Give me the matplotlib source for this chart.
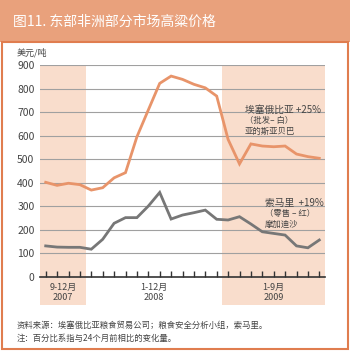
import matplotlib.pyplot as plt
from matplotlib.patches import Rectangle

# DATA -------------
# monthly prices, Sep 2007 .. Sep 2009 (USD / tonne)
ethiopia = [402, 389, 398, 392, 369, 379, 421, 443, 595, 709, 822, 853, 839,
            818, 803, 768, 584, 480, 565, 556, 553, 556, 522, 511, 504]
somalia = [132, 127, 126, 126, 118, 160, 228, 252, 252, 301, 359, 246, 263,
           273, 284, 245, 242, 256, 225, 192, 185, 178, 132, 124, 157]
period_labels = ["9-12月\n2007", "1-12月\n2008", "1-9月\n2009"]
period_months = [4, 12, 9]
y_ticks = [0, 100, 200, 300, 400, 500, 600, 700, 800, 900]

title = "图11. 东部非洲部分市场高粱价格"
unit = "美元/吨"
eth_label = ["埃塞俄比亚 +25%", "（批发– 白）", "亚的斯亚贝巴"]
som_label = ["索马里  +19%", "（零售 – 红）", "摩加迪沙"]
footer = ["资料来源：埃塞俄比亚粮食贸易公司；粮食安全分析小组，索马里。",
          "注：百分比系指与24个月前相比的变化量。"]

# COLORS -----------
bar_col = "#E9A17C"
border_col = "#E07D4F"
shade_col = "#F9DDCC"
orange = "#E8946A"
grey = "#777777"
text_col = "#444444"

plt.rcParams['font.family'] = ['Noto Sans CJK SC', 'DejaVu Sans']

W, H = 350, 351
fig = plt.figure(figsize=(W / 100, H / 100), dpi=100)


def fx(px):
    return px / W


def fy(py):
    return 1 - py / H


# title bar and frame
fig.patches.append(Rectangle((0, fy(42)), 1, 42 / H, transform=fig.transFigure,
                             facecolor=bar_col, edgecolor="none"))
fig.patches.append(Rectangle((fx(2), fy(349)), fx(346), (349 - 42) / H,
                             transform=fig.transFigure, facecolor="none",
                             edgecolor=border_col, linewidth=1.5))
fig.text(fx(13), fy(22), title, color="white", fontsize=10, va="center")

ax = fig.add_axes([fx(40), fy(277), fx(285), (277 - 65) / H])
n = len(ethiopia)
xs = [i + 0.5 for i in range(n)]

# shaded periods (2007 and 2009)
start = 0
for k, m in enumerate(period_months):
    if k != 1:
        ax.axvspan(start, start + m, ymin=-0.132, ymax=1, color=shade_col,
                   clip_on=False, zorder=0, linewidth=0)
    ax.text(start + m / 2, -25, period_labels[k], ha="center", va="top",
            fontsize=6.5, color=text_col, linespacing=1.2)
    start += m

for y in y_ticks[1:]:
    ax.axhline(y, color="#A0A0A0", linewidth=0.8, zorder=1)

ax.plot(xs, ethiopia, color=orange, linewidth=2, zorder=3,
        solid_joinstyle="miter")
ax.plot(xs, somalia, color=grey, linewidth=2, zorder=3,
        solid_joinstyle="miter")

ax.set_xlim(0, n)
ax.set_ylim(0, 900)
ax.set_yticks(y_ticks)
ax.set_yticklabels([str(v) for v in y_ticks], fontsize=7.5, color=text_col)
ax.tick_params(axis="y", length=0, pad=4)
ax.set_xticks(xs)
ax.set_xticklabels([])
ax.tick_params(axis="x", direction="in", length=4, width=1, color="#333333")
for s in ["left", "right", "top"]:
    ax.spines[s].set_visible(False)
ax.spines["bottom"].set_color("#333333")
ax.spines["bottom"].set_linewidth(1.2)
ax.patch.set_alpha(0)

fig.text(fx(17), fy(53), unit, fontsize=6.5, color=text_col, va="center")

for i, t in enumerate(eth_label):
    fig.text(fx(245), fy(110 + 10.5 * i), t, fontsize=7 if i == 0 else 6,
             color=text_col, va="center")
for i, t in enumerate(som_label):
    fig.text(fx(265), fy(203 + 10.5 * i), t, fontsize=7 if i == 0 else 6,
             color=text_col, va="center")

for i, t in enumerate(footer):
    fig.text(fx(17), fy(325 + 13 * i), t, fontsize=6, color=text_col,
             va="center")

fig.savefig("out.png", dpi=100)
